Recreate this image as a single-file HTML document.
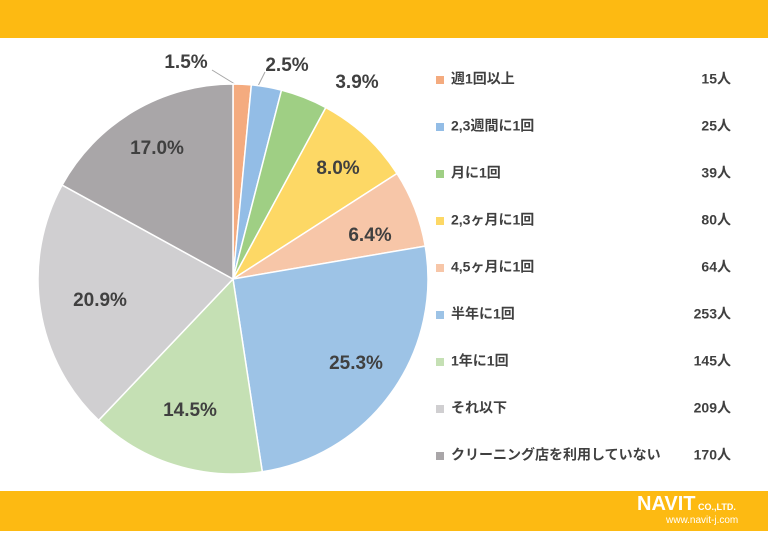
<!DOCTYPE html>
<html><head><meta charset="utf-8"><style>
body{margin:0;width:768px;height:531px;overflow:hidden;background:#fff;font-family:"Liberation Sans","Noto Sans CJK JP",sans-serif}
</style></head><body>
<svg width="768" height="531">
<rect x="0" y="0" width="768" height="38" fill="#FDBA12"/>
<rect x="0" y="491" width="768" height="40" fill="#FDBA12"/>
<line x1="212" y1="70" x2="238" y2="86" stroke="#a6a6a6" stroke-width="1"/>
<line x1="265" y1="72" x2="258" y2="86" stroke="#a6a6a6" stroke-width="1"/>
<g id="pie"></g>
<g id="legend"></g>
<text x="637" y="510" fill="#fff" font-size="20" font-weight="bold">NAVIT<tspan font-size="9"> CO.,LTD.</tspan></text>
<text x="666" y="523" fill="#fff" font-size="10">www.navit-j.com</text>
</svg>
<script>
const categories=["週1回以上","2,3週間に1回","月に1回","2,3ヶ月に1回","4,5ヶ月に1回","半年に1回","1年に1回","それ以下","クリーニング店を利用していない"];
const values=[15,25,39,80,64,253,145,209,170];
const pctLabels=["1.5%","2.5%","3.9%","8.0%","6.4%","25.3%","14.5%","20.9%","17.0%"];
const colors=["#F4AB7F","#93BDE6","#9FCF84","#FDD865","#F7C6A8","#9DC3E6","#C5E0B4","#D0CFD1","#A9A6A8"];
const labelPos=[[186,63],[287,66],[357,83],[338,169],[370,236],[356,364],[190,411],[100,301],[157,149]];
const NS="http://www.w3.org/2000/svg";
const cx=233,cy=279,r=195;
const total=values.reduce((a,b)=>a+b,0);
const pie=document.getElementById('pie');
let a0=0;
values.forEach((v,i)=>{
  const a1=a0+v/total*2*Math.PI;
  const x0=cx+r*Math.sin(a0),y0=cy-r*Math.cos(a0),x1=cx+r*Math.sin(a1),y1=cy-r*Math.cos(a1);
  const p=document.createElementNS(NS,'path');
  p.setAttribute('d',`M${cx},${cy}L${x0},${y0}A${r},${r} 0 ${a1-a0>Math.PI?1:0} 1 ${x1},${y1}Z`);
  p.setAttribute('fill',colors[i]);p.setAttribute('stroke','#fff');p.setAttribute('stroke-width','1.5');
  
  
  pie.appendChild(p);
  const t=document.createElementNS(NS,'text');
  t.setAttribute('x',labelPos[i][0]);t.setAttribute('y',labelPos[i][1]);
  t.setAttribute('text-anchor','middle');t.setAttribute('dominant-baseline','middle');
  t.setAttribute('font-size','19');t.setAttribute('font-weight','bold');t.setAttribute('fill','#404040');
  t.textContent=pctLabels[i];
  
  
  pie.appendChild(t);
  a0=a1;
});
const lg=document.getElementById('legend');
categories.forEach((c,i)=>{
  const y=80+i*47;
  const s=document.createElementNS(NS,'rect');
  s.setAttribute('x',436);s.setAttribute('y',y-4);s.setAttribute('width',8);s.setAttribute('height',8);s.setAttribute('fill',colors[i]);
  
  
  lg.appendChild(s);
  const t=document.createElementNS(NS,'text');
  t.setAttribute('x',451);t.setAttribute('y',y);t.setAttribute('dominant-baseline','middle');
  t.setAttribute('font-size','14');t.setAttribute('font-weight','bold');t.setAttribute('fill','#404040');
  t.textContent=c;
  
  
  lg.appendChild(t);
  const v=document.createElementNS(NS,'text');
  v.setAttribute('x',731);v.setAttribute('y',y);v.setAttribute('dominant-baseline','middle');v.setAttribute('text-anchor','end');
  v.setAttribute('font-size','14');v.setAttribute('font-weight','bold');v.setAttribute('fill','#404040');
  v.textContent=values[i]+'人';
  
  
  lg.appendChild(v);
});
</script>
</body></html>
